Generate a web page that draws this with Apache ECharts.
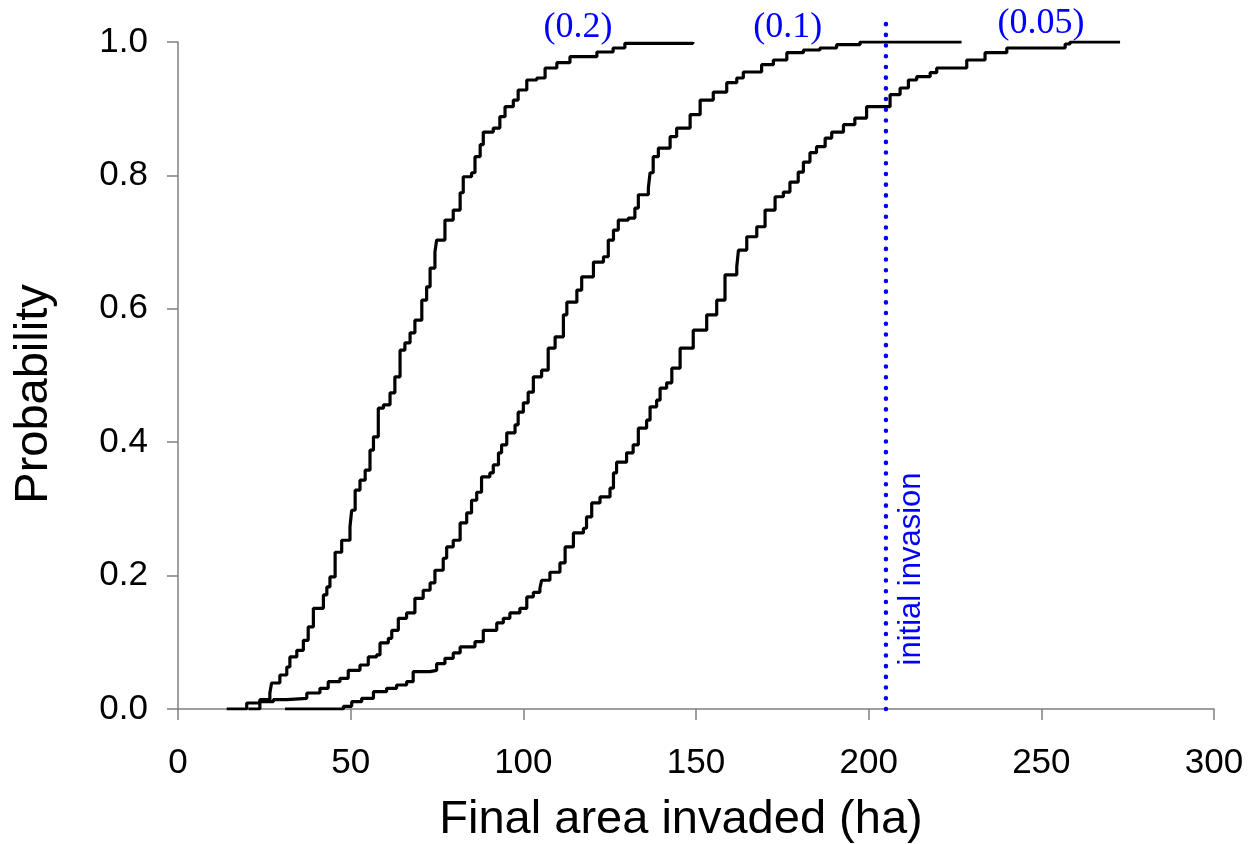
<!DOCTYPE html>
<html>
<head>
<meta charset="utf-8">
<script src="https://cdn.jsdelivr.net/npm/echarts@6/dist/echarts.min.js"></script>
<style>
html,body{margin:0;padding:0;background:#fff;}
#chart{width:1251px;height:844px;}
</style>
</head>
<body>
<div id="chart"></div>
<script>
// ---- Data ----
var xTicks = [0, 50, 100, 150, 200, 250, 300];
var yTicks = [0.0, 0.2, 0.4, 0.6, 0.8, 1.0];

// Curve labelled (0.2)
var curve02_x = [14.1, 19.9, 23.7, 26.6, 27.1, 29.5, 31.5, 32.4, 34.4, 36.3, 37.7, 39.2, 42.1, 43.1, 44.0, 45.5, 47.4, 49.8, 50.3, 51.3, 52.7, 54.2, 55.6, 56.6, 58.0, 59.5, 61.4, 62.8, 64.3, 65.7, 67.2, 68.6, 70.6, 72.0, 73.0, 74.4, 74.9, 77.3, 79.7, 81.7, 82.6, 85.0, 86.0, 87.5, 88.4, 91.3, 93.2, 94.7, 97.1, 98.5, 101.0, 103.9, 106.3, 109.7, 113.5, 121.3, 126.0, 129.4, 149.1];
var curve02_y = [0, 0.009, 0.014, 0.024, 0.039, 0.051, 0.063, 0.078, 0.088, 0.103, 0.123, 0.151, 0.171, 0.183, 0.198, 0.235, 0.253, 0.273, 0.298, 0.328, 0.343, 0.358, 0.388, 0.408, 0.451, 0.456, 0.474, 0.498, 0.538, 0.549, 0.564, 0.583, 0.613, 0.633, 0.661, 0.685, 0.703, 0.733, 0.748, 0.774, 0.798, 0.804, 0.828, 0.846, 0.865, 0.871, 0.888, 0.903, 0.913, 0.928, 0.943, 0.946, 0.961, 0.969, 0.978, 0.985, 0.991, 0.998, 1.0];

// Curve labelled (0.1)
var curve01_x = [20.4, 23.7, 27.6, 31.5, 37.3, 41.1, 43.5, 46.9, 49.3, 52.7, 55.1, 57.5, 58.5, 60.9, 61.9, 63.8, 66.2, 68.6, 71.0, 73.0, 74.4, 76.8, 77.8, 79.7, 81.7, 83.6, 85.0, 86.5, 87.9, 90.3, 91.3, 92.8, 93.7, 95.2, 97.6, 98.5, 100.0, 101.4, 102.9, 105.3, 107.2, 109.2, 111.6, 112.6, 115.5, 116.9, 120.3, 123.2, 124.6, 126.1, 127.5, 130.4, 132.3, 133.3, 136.2, 136.7, 137.6, 139.1, 142.5, 144.4, 148.3, 151.2, 155.0, 158.9, 161.8, 163.7, 169.0, 172.4, 176.3, 181.1, 185.9, 190.7, 197.5, 226.9];
var curve01_y = [0, 0.011, 0.014, 0.016, 0.024, 0.031, 0.041, 0.046, 0.058, 0.066, 0.078, 0.081, 0.099, 0.106, 0.118, 0.136, 0.144, 0.166, 0.178, 0.189, 0.208, 0.226, 0.243, 0.253, 0.279, 0.294, 0.313, 0.325, 0.348, 0.354, 0.366, 0.384, 0.396, 0.414, 0.426, 0.445, 0.459, 0.475, 0.498, 0.508, 0.541, 0.558, 0.591, 0.610, 0.628, 0.648, 0.670, 0.678, 0.703, 0.718, 0.733, 0.736, 0.751, 0.771, 0.781, 0.804, 0.828, 0.841, 0.858, 0.871, 0.891, 0.913, 0.925, 0.939, 0.946, 0.955, 0.966, 0.973, 0.984, 0.988, 0.991, 0.996, 1.0, 1.0];

// Curve labelled (0.05)
var curve005_x = [31.0, 47.9, 50.3, 53.2, 56.6, 60.4, 63.3, 66.2, 68.1, 73.0, 74.9, 77.3, 79.7, 81.7, 86.0, 88.4, 92.3, 94.2, 96.1, 99.0, 101.0, 102.9, 104.8, 105.3, 107.7, 110.6, 112.1, 114.5, 117.4, 118.3, 119.8, 122.2, 125.1, 126.1, 127.0, 129.9, 131.8, 133.3, 135.7, 136.7, 138.6, 139.6, 141.5, 143.0, 145.4, 149.2, 153.1, 156.0, 158.4, 161.8, 162.3, 164.7, 167.6, 170.0, 172.9, 175.3, 177.2, 179.6, 181.1, 183.0, 184.9, 187.4, 189.3, 192.7, 196.0, 199.4, 204.2, 206.2, 209.1, 211.5, 213.9, 217.8, 219.7, 224.5, 228.4, 233.7, 240.0, 256.9, 258.3, 272.8];
var curve005_y = [0, 0.004, 0.011, 0.016, 0.026, 0.031, 0.036, 0.041, 0.056, 0.058, 0.068, 0.076, 0.084, 0.093, 0.101, 0.118, 0.129, 0.136, 0.144, 0.151, 0.168, 0.175, 0.181, 0.193, 0.205, 0.219, 0.243, 0.264, 0.271, 0.288, 0.309, 0.318, 0.331, 0.354, 0.370, 0.384, 0.396, 0.421, 0.433, 0.453, 0.463, 0.481, 0.489, 0.511, 0.541, 0.568, 0.591, 0.613, 0.651, 0.663, 0.688, 0.708, 0.723, 0.748, 0.768, 0.775, 0.790, 0.805, 0.820, 0.834, 0.843, 0.856, 0.865, 0.876, 0.886, 0.903, 0.903, 0.921, 0.931, 0.943, 0.948, 0.954, 0.961, 0.961, 0.973, 0.984, 0.991, 0.997, 1.0, 1.0];

var curveNames = ['(0.2)', '(0.1)', '(0.05)'];
var initialInvasionX = 205;
var initialInvasionLineY = [0, 1.03];
var initialInvasionText = 'initial invasion';
var xTitle = 'Final area invaded (ha)';
var yTitle = 'Probability';

// label anchors (data coords) for the curve names
var curveLabelAt = [[115.8, 1.022], [176.6, 1.022], [249.9, 1.028]];

function zip(xs, ys) { return xs.map(function (x, i) { return [x, ys[i]]; }); }

var chart = echarts.init(document.getElementById('chart'), null, { renderer: 'canvas' });
var SANS = '"Liberation Sans", Arial, sans-serif';
var SERIF = '"Liberation Serif", "Times New Roman", serif';

var curveStyle = { color: '#000', width: 3.2 };
function curveSeries(name, xs, ys) {
  return {
    name: name, type: 'line', step: 'end', showSymbol: false, symbol: 'none',
    data: zip(xs, ys), lineStyle: curveStyle, itemStyle: { color: '#000' },
    animation: false, z: 3
  };
}

var option = {
  backgroundColor: '#fff',
  animation: false,
  grid: { left: 178, right: 37, top: 42, bottom: 135, containLabel: false },
  xAxis: {
    type: 'value', min: 0, max: 300, interval: 50,
    axisLine: { show: true, onZero: false, lineStyle: { color: '#808080', width: 1.5 } },
    axisTick: { show: true, length: 11, inside: false, lineStyle: { color: '#808080', width: 1.5 } },
    axisLabel: { margin: 37, fontSize: 35, color: '#000', fontFamily: SANS,
      formatter: function (v) { return xTicks.indexOf(v) >= 0 ? String(v) : ''; } },
    splitLine: { show: false }
  },
  yAxis: {
    type: 'value', min: 0, max: 1, interval: 0.2,
    axisLine: { show: true, lineStyle: { color: '#808080', width: 1.5 } },
    axisTick: { show: true, length: 11, lineStyle: { color: '#808080', width: 1.5 } },
    axisLabel: { margin: 30, fontSize: 35, color: '#000', fontFamily: SANS,
      formatter: function (v) { return v.toFixed(1); } },
    splitLine: { show: false }
  },
  series: [
    curveSeries(curveNames[0], curve02_x, curve02_y),
    curveSeries(curveNames[1], curve01_x, curve01_y),
    curveSeries(curveNames[2], curve005_x, curve005_y),
    {
      name: 'initial invasion', type: 'line', showSymbol: false, symbol: 'none', clip: false,
      data: [[initialInvasionX, initialInvasionLineY[0]], [initialInvasionX, initialInvasionLineY[1]]],
      lineStyle: { color: '#0000ff', width: 4.5, type: [0.1, 10.6], cap: 'round' },
      animation: false, z: 4
    }
  ]
};
chart.setOption(option);

function px(pt) { return chart.convertToPixel({ gridIndex: 0 }, pt); }
var graphics = [];
curveNames.forEach(function (n, i) {
  var p = px(curveLabelAt[i]);
  graphics.push({ type: 'text', x: p[0], y: p[1], z: 10,
    style: { text: n, font: '36px ' + SERIF, fill: '#0000ff', textAlign: 'center', textVerticalAlign: 'middle' } });
});
var tp = px([initialInvasionX, 0.21]);
graphics.push({ type: 'text', x: tp[0] + 26, y: tp[1], rotation: Math.PI / 2, z: 10,
  style: { text: initialInvasionText, font: '31px ' + SANS, fill: '#0000ff', textAlign: 'center', textVerticalAlign: 'middle' } });
graphics.push({ type: 'text', x: 681, y: 820, z: 10,
  style: { text: xTitle, font: '47px ' + SANS, fill: '#000', textAlign: 'center', textVerticalAlign: 'middle' } });
graphics.push({ type: 'text', x: 34, y: 394, rotation: Math.PI / 2, z: 10,
  style: { text: yTitle, font: '47px ' + SANS, fill: '#000', textAlign: 'center', textVerticalAlign: 'middle' } });
chart.setOption({ graphic: graphics });
</script>
</body>
</html>
